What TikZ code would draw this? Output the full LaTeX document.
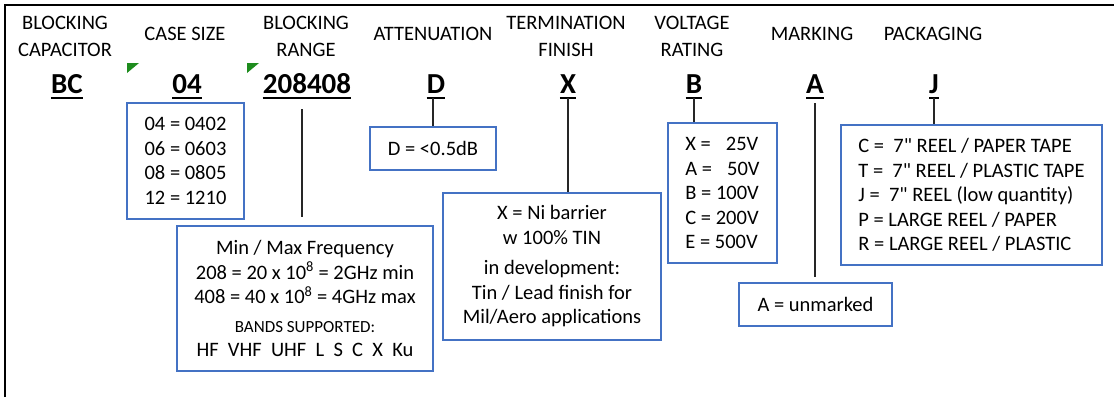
\documentclass[tikz,border=0pt]{standalone}
\usepackage{fontspec}
\setmainfont{Carlito}
\usepackage{tikz}
\usetikzlibrary{positioning}
\definecolor{pnBlue}{HTML}{4472C4}
\definecolor{pnGreen}{HTML}{1E8C1E}
\tikzset{
  hdr/.style={align=center, inner sep=0pt, font=\fontsize{20.5}{27}\selectfont},
  code/.style={inner sep=0pt, anchor=base, font=\fontsize{29}{30}\selectfont\bfseries},
  keybox/.style={
    draw=pnBlue, line width=1.6pt, inner sep=0pt, align=left,
    font=\fontsize{20.5}{24.5}\selectfont
  },
  keyboxc/.style={keybox, align=center},
  lead/.style={line width=1.2pt, black!85},
  uline/.style={line width=2pt},
  flag/.style={fill=pnGreen, draw=none},
  frame/.style={line width=2.5pt}
}

\begin{document}
\begin{tikzpicture}[x=1pt, y=-1pt]
  \useasboundingbox (0,0) rectangle (1114,397);
  \draw[frame] (5,397) -- (5,5) -- (1114,5);

  % field headings
  \foreach \nm/\x/\y/\txt in {
    hbc/65/36/{BLOCKING\\CAPACITOR},
    hcs/185/34/{CASE SIZE},
    hrng/306/36/{BLOCKING\\RANGE},
    hatt/433/34/{ATTENUATION},
    hfin/566/36/{TERMINATION\\FINISH},
    hvolt/692/36/{VOLTAGE\\RATING},
    hmark/812/34/{MARKING},
    hpkg/933/34/{PACKAGING}}{
    \node[hdr] (\nm) at (\x,\y) {\txt};
  }

  % part number fields
  \foreach \nm/\x/\txt in {
    bc/67/BC, cs/187/04, rng/307/208408, att/436/D,
    fin/568/X, volt/694/B, mark/815/A, pkg/934/J}{
    \node[code] (\nm) at (\x,93) {\txt};
    \coordinate (\nm-u) at ([yshift=-5pt]\nm.base);
    \draw[uline] ([yshift=-5pt]\nm.base west) -- ([yshift=-5pt]\nm.base east);
  }

  % comment flags
  \fill[flag] (127,63) -- (139,63) -- (127,73) -- cycle;
  \fill[flag] (247,63) -- (259,63) -- (247,73) -- cycle;

  % key boxes
  \node[keybox, minimum width=117pt, minimum height=116pt] (csbox) at (185.5,161)
    {04 = 0402\\06 = 0603\\08 = 0805\\12 = 1210};
  \node[keyboxc, minimum width=256pt, minimum height=145pt] (fbox) at (305,298.5)
    {Min / Max Frequency\\
     208 = 20 x 10\textsuperscript{8} = 2GHz min\\
     408 = 40 x 10\textsuperscript{8} = 4GHz max\\[4pt]
     {\fontsize{17}{20}\selectfont BANDS SUPPORTED:}\\
     HF~~VHF~~UHF~~L~~S~~C~~X~~Ku};
  \node[keyboxc, minimum width=126pt, minimum height=43pt] (dbox) at (433,148.5)
    {D = <0.5dB};
  \node[keyboxc, minimum width=218pt, minimum height=147pt] (xbox) at (552,266.5)
    {X = Ni barrier\\ w 100\% TIN\\[6pt]
     in development:\\ Tin / Lead finish for\\ Mil/Aero applications};
  \node[keybox, minimum width=109pt, minimum height=140pt] (vbox) at (722.5,193)
    {X = \phantom{1}25V\\ A = \phantom{1}50V\\ B = 100V\\ C = 200V\\ E = 500V};
  \node[keyboxc, minimum width=153pt, minimum height=43pt] (abox) at (815.5,304.5)
    {A = unmarked};
  \node[keybox, minimum width=261pt, minimum height=140pt] (jbox) at (971.5,195)
    {C = \ 7\textquotedbl{} REEL / PAPER TAPE\\
     T = \ 7\textquotedbl{} REEL / PLASTIC TAPE\\
     J = \ 7\textquotedbl{} REEL (low quantity)\\
     P = LARGE REEL / PAPER\\
     R = LARGE REEL / PLASTIC};

  % leads
  \coordinate (rng-l) at ([xshift=-5pt]rng-u);
  \draw[lead, shorten <=11pt, shorten >=8pt] (rng-l) -- (rng-l |- fbox.north);
  \draw[lead] (att-u -| dbox.north) -- (dbox.north);
  \draw[lead] (fin-u) -- (fin-u |- xbox.north);
  \draw[lead] (volt-u) -- (volt-u |- vbox.north);
  \draw[lead, shorten <=5pt, shorten >=5pt] (mark-u) -- (mark-u |- abox.north);
  \draw[lead] (pkg-u) -- (pkg-u |- jbox.north);
\end{tikzpicture}
\end{document}
